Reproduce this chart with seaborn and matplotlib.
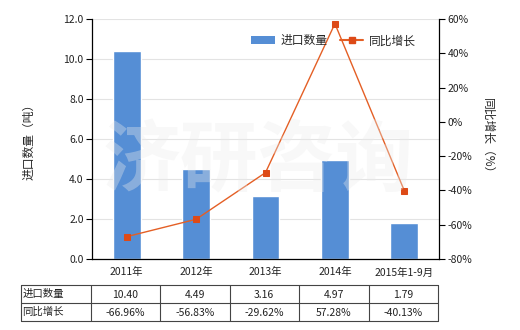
import matplotlib
matplotlib.use("Agg")
import matplotlib.pyplot as plt
import seaborn as sns
import pandas as pd
import numpy as np
from matplotlib.lines import Line2D
from matplotlib.patches import Patch

categories = ["2011年", "2012年", "2013年", "2014年", "2015年1-9月"]
import_qty = [10.40, 4.49, 3.16, 4.97, 1.79]
yoy_growth = [-66.96, -56.83, -29.62, 57.28, -40.13]
qty_labels = ["10.40", "4.49", "3.16", "4.97", "1.79"]
growth_labels = ["-66.96%", "-56.83%", "-29.62%", "57.28%", "-40.13%"]
left_ticks = [0, 2, 4, 6, 8, 10, 12]
right_ticks = [-80, -60, -40, -20, 0, 20, 40, 60]

sns.set_theme(style="white")
plt.rcParams['font.family'] = ['Noto Sans CJK SC', 'DejaVu Sans']
plt.rcParams['axes.unicode_minus'] = False

BAR = "#558ed5"
LINE = "#e45f25"
W, H = 520, 330
fig = plt.figure(figsize=(5.2, 3.3), dpi=100)
ax = fig.add_axes([92 / W, 1 - 259 / H, 347 / W, 240 / H])

df = pd.DataFrame({"cat": categories, "qty": import_qty, "yoy": yoy_growth})
sns.barplot(data=df, x="cat", y="qty", color=BAR, saturation=1, width=0.4, ax=ax, zorder=2)
ax.set_ylim(0, 12)
ax.set_yticks(left_ticks)
ax.set_yticklabels([f"{v:.1f}" for v in left_ticks], fontsize=7.5)
ax.set_xlim(-0.5, 4.5)
ax.set_xticks(range(len(categories)))
ax.set_xticklabels(categories, fontsize=7.5)
ax.set_xlabel("")
ax.set_ylabel("进口数量（吨）", fontsize=8.5, labelpad=20)
ax.grid(axis="y", color="#e3e3e3", linewidth=0.8, zorder=0)
ax.set_axisbelow(True)
for s in ["top", "right"]:
    ax.spines[s].set_visible(False)
for s in ["left", "bottom"]:
    ax.spines[s].set_color("black")
    ax.spines[s].set_linewidth(0.9)
ax.tick_params(axis="both", direction="out", length=4, width=0.8, color="black", pad=2, labelcolor="#222222")

ax2 = ax.twinx()
sns.lineplot(data=df, x="cat", y="yoy", color=LINE, marker="s", markersize=5,
             markeredgecolor="#dd4a17", markerfacecolor="#dd4a17", linewidth=1.0, ax=ax2, zorder=3)
ax2.set_ylim(-80, 60)
ax2.set_yticks(right_ticks)
ax2.set_yticklabels([f"{v}%" for v in right_ticks], fontsize=7.5)
ax2.set_ylabel("同比增长（%）", fontsize=8.5, rotation=-90, labelpad=16)
ax2.set_xlabel("")
for s in ["top", "left", "bottom"]:
    ax2.spines[s].set_visible(False)
ax2.spines["right"].set_color("black")
ax2.spines["right"].set_linewidth(0.9)
ax2.tick_params(axis="y", direction="out", length=4, width=0.8, color="black", pad=2, labelcolor="#222222")
ax2.grid(False)

# watermark
fig.text(258 / W, 1 - 163 / H, "济研咨询", fontsize=56, color="#ebebeb", alpha=0.35,
         ha="center", va="center", fontweight="bold", zorder=10)

handles = [Patch(facecolor=BAR, edgecolor="none"),
           Line2D([0], [0], color=LINE, marker="s", markersize=4,
                  markerfacecolor="#dd4a17", markeredgecolor="#dd4a17", linewidth=1.5)]
ax2.legend(handles, ["进口数量", "同比增长"], loc="upper right", bbox_to_anchor=(0.965, 0.98),
           ncol=2, frameon=False, fontsize=8.5, handlelength=2.0, columnspacing=1.0, handletextpad=0.5)

# table
col_x = [20.5, 90.5, 160, 229.5, 299, 368.5, 438]
row_y = [285, 303, 321]
for x in col_x:
    fig.add_artist(Line2D([x / W, x / W], [1 - row_y[0] / H, 1 - row_y[-1] / H], color="#444444", linewidth=0.8))
for y in row_y:
    fig.add_artist(Line2D([col_x[0] / W, col_x[-1] / W], [1 - y / H, 1 - y / H], color="#444444", linewidth=0.8))
row_names = ["进口数量", "同比增长"]
rows = [qty_labels, growth_labels]
for r in range(2):
    yc = (row_y[r] + row_y[r + 1]) / 2
    fig.text((col_x[0] + 2) / W, 1 - yc / H, row_names[r], fontsize=7.5, ha="left", va="center", color="#222222")
    for c in range(5):
        xc = (col_x[c + 1] + col_x[c + 2]) / 2
        fig.text(xc / W, 1 - (yc + 1) / H, rows[r][c], fontsize=7.5, ha="center", va="center", color="#222222")

fig.savefig("out.png", dpi=100)
